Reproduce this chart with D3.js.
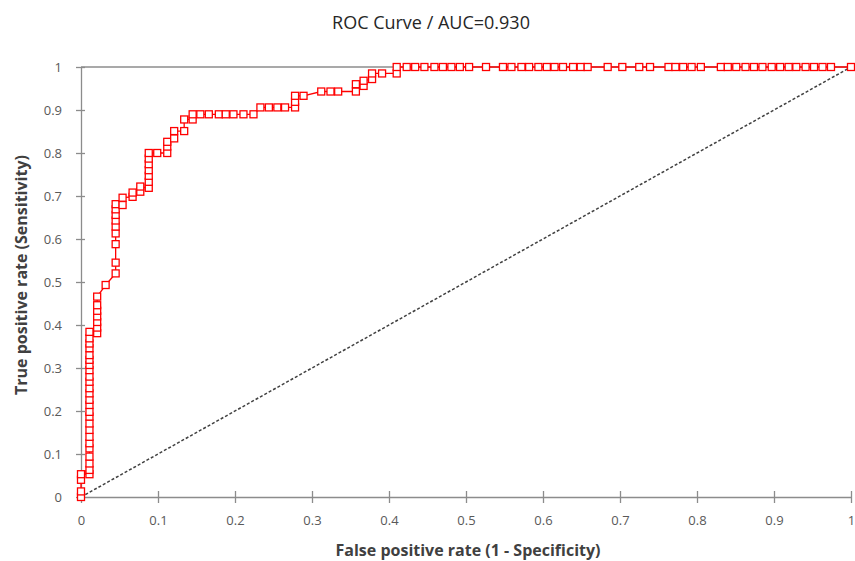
<!DOCTYPE html>
<html lang="en">
<head>
<meta charset="UTF-8">
<title>ROC Curve</title>
<style>
  body { margin: 0; background: #fff; }
  svg text { font-family: "Open Sans", "Noto Sans", sans-serif; }
</style>
</head>
<body>
<div id="chart"></div>
<script src="https://d3js.org/d3.v7.min.js"></script>
<script>
// ROC points (false positive rate / true positive rate)
var fpr = [
  0, 0, 0, 0,
  0.011, 0.011, 0.011, 0.011, 0.011, 0.011, 0.011, 0.011, 0.011, 0.011, 0.011, 0.011, 0.011,
  0.011, 0.011, 0.011, 0.011, 0.011, 0.011, 0.011, 0.011, 0.011, 0.011, 0.011, 0.011,
  0.021, 0.021, 0.021, 0.021, 0.021, 0.021, 0.021,
  0.032,
  0.045, 0.045, 0.045, 0.045, 0.045, 0.045, 0.045, 0.045, 0.045,
  0.054, 0.054, 0.067, 0.067, 0.077, 0.077,
  0.088, 0.088, 0.088, 0.088, 0.088, 0.088, 0.088,
  0.099, 0.112, 0.112, 0.112, 0.121, 0.121, 0.134, 0.134, 0.145, 0.145,
  0.155, 0.166, 0.179, 0.188, 0.198, 0.211, 0.224,
  0.233, 0.244, 0.255, 0.265, 0.278, 0.278, 0.278, 0.289,
  0.312, 0.324, 0.334, 0.357, 0.357, 0.367, 0.367, 0.378, 0.378, 0.391, 0.41, 0.41,
  0.423, 0.434, 0.446, 0.459, 0.47, 0.481, 0.492, 0.504, 0.526, 0.548, 0.559, 0.572,
  0.582, 0.594, 0.605, 0.615, 0.626, 0.639, 0.649, 0.658, 0.684, 0.703, 0.725, 0.739,
  0.763, 0.772, 0.782, 0.793, 0.805, 0.831, 0.84, 0.851, 0.863, 0.874, 0.885, 0.897,
  0.908, 0.919, 0.929, 0.941, 0.952, 0.963, 0.974, 1
];
var tpr = [
  0, 0.013, 0.04, 0.053,
  0.053, 0.063, 0.078, 0.094, 0.113, 0.125, 0.14, 0.156, 0.171, 0.187, 0.198, 0.214, 0.226,
  0.241, 0.253, 0.268, 0.28, 0.295, 0.307, 0.319, 0.33, 0.346, 0.357, 0.369, 0.384,
  0.381, 0.394, 0.407, 0.42, 0.433, 0.446, 0.466,
  0.493,
  0.52, 0.545, 0.588, 0.613, 0.629, 0.643, 0.656, 0.669, 0.681,
  0.679, 0.696, 0.698, 0.708, 0.71, 0.722,
  0.719, 0.733, 0.747, 0.76, 0.774, 0.787, 0.8,
  0.8, 0.8, 0.815, 0.826, 0.834, 0.851, 0.851, 0.878, 0.878, 0.89,
  0.89, 0.89, 0.89, 0.89, 0.89, 0.89, 0.89,
  0.906, 0.906, 0.906, 0.906, 0.906, 0.919, 0.933, 0.933,
  0.943, 0.943, 0.943, 0.943, 0.96, 0.956, 0.968, 0.972, 0.985, 0.985, 0.985, 1,
  1, 1, 1, 1, 1, 1, 1, 1, 1, 1, 1, 1,
  1, 1, 1, 1, 1, 1, 1, 1, 1, 1, 1, 1,
  1, 1, 1, 1, 1, 1, 1, 1, 1, 1, 1, 1,
  1, 1, 1, 1, 1, 1, 1, 1
];
var tickValues = [0, 0.1, 0.2, 0.3, 0.4, 0.5, 0.6, 0.7, 0.8, 0.9, 1];
var title = "ROC Curve / AUC=0.930";
var xTitle = "False positive rate (1 - Specificity)";
var yTitle = "True positive rate (Sensitivity)";

var width = 855, height = 561;
var plotL = 81, plotR = 851, plotT = 67, plotB = 497;
var axisColor = "#8c8c8c";
var labelColor = "#595959";
var red = "#ff0000";

var svg = d3.select("#chart").append("svg")
    .attr("width", width)
    .attr("height", height);

var x = d3.scaleLinear().domain([0, 1]).range([plotL, plotR]);
var y = d3.scaleLinear().domain([0, 1]).range([plotB, plotT]);

// top line at y=1
svg.append("line")
    .attr("x1", plotL).attr("x2", plotR)
    .attr("y1", y(1)).attr("y2", y(1))
    .style("stroke", axisColor).style("stroke-width", 1.3);

// axes, ticks cross the axis line
var xAxis = svg.append("g")
    .attr("transform", "translate(0," + plotB + ")")
    .call(d3.axisBottom(x).tickValues(tickValues).tickFormat(d3.format("")).tickSizeInner(6).tickSizeOuter(0).tickPadding(13));
xAxis.selectAll(".tick line").attr("y1", -6);
xAxis.select(".domain").style("stroke", axisColor).style("stroke-width", 1.3);
xAxis.selectAll(".tick line").style("stroke", axisColor).style("stroke-width", 1.3);
xAxis.selectAll("text").style("fill", labelColor).style("font-size", "13px");

var yAxis = svg.append("g")
    .attr("transform", "translate(" + plotL + ",0)")
    .call(d3.axisLeft(y).tickValues(tickValues).tickFormat(d3.format("")).tickSizeInner(5).tickSizeOuter(0).tickPadding(14));
yAxis.selectAll(".tick line").attr("x1", 4);
yAxis.select(".domain").style("stroke", axisColor).style("stroke-width", 1.3);
yAxis.selectAll(".tick line").style("stroke", axisColor).style("stroke-width", 1.3);
yAxis.selectAll("text").style("fill", labelColor).style("font-size", "13px");

// random classifier diagonal
svg.append("line")
    .attr("x1", x(0)).attr("y1", y(0))
    .attr("x2", x(1)).attr("y2", y(1))
    .style("stroke", "#404040")
    .style("stroke-width", 1.5)
    .style("stroke-dasharray", "3,2");

var pts = fpr.map(function (d, i) { return [d, tpr[i]]; });

var line = d3.line()
    .x(function (d) { return x(d[0]); })
    .y(function (d) { return y(d[1]); });

svg.append("path")
    .datum(pts)
    .attr("d", line)
    .style("fill", "none")
    .style("stroke", red)
    .style("stroke-width", 1.3);

svg.selectAll("rect.mk")
    .data(pts)
    .enter().append("rect")
    .attr("class", "mk")
    .attr("x", function (d) { return x(d[0]) - 3.5; })
    .attr("y", function (d) { return y(d[1]) - 3.5; })
    .attr("width", 7)
    .attr("height", 7)
    .style("fill", "#fff")
    .style("stroke", red)
    .style("stroke-width", 1.3);

// titles
svg.append("text")
    .text(title)
    .attr("x", 431).attr("y", 29)
    .attr("text-anchor", "middle")
    .style("font-size", "18px")
    .style("fill", "#262626");

svg.append("text")
    .text(xTitle)
    .attr("x", 468).attr("y", 556)
    .attr("text-anchor", "middle")
    .style("font-size", "16px")
    .style("font-weight", "bold")
    .style("fill", "#404040");

svg.append("text")
    .text(yTitle)
    .attr("transform", "translate(27,275) rotate(-90)")
    .attr("text-anchor", "middle")
    .style("font-size", "16px")
    .style("font-weight", "bold")
    .style("fill", "#404040");
</script>
</body>
</html>
